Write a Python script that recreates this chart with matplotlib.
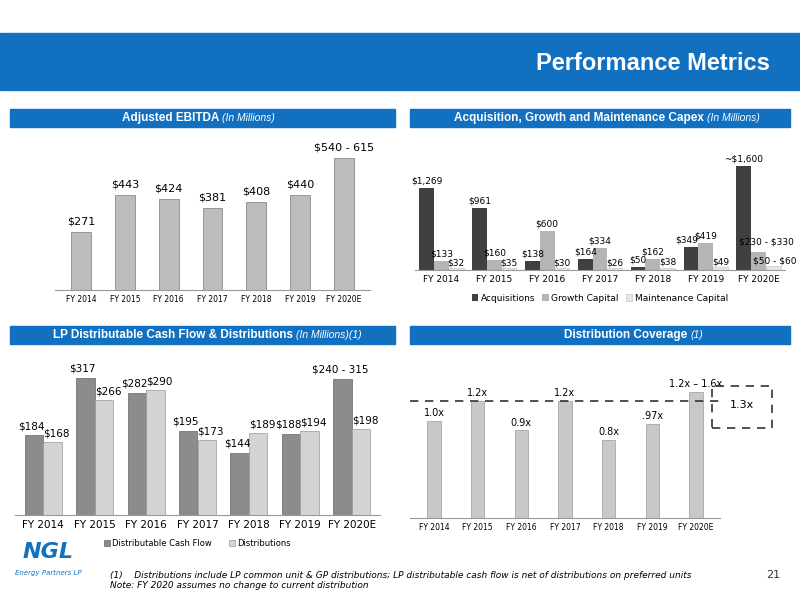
import matplotlib
matplotlib.use("Agg")
import matplotlib.pyplot as plt
from matplotlib.patches import Rectangle
import numpy as np

plt.rcParams["text.parse_math"] = False

years = ["FY 2014", "FY 2015", "FY 2016", "FY 2017", "FY 2018", "FY 2019", "FY 2020E"]
ebitda = [271, 443, 424, 381, 408, 440, 615]
ebitda_labels = ["$271", "$443", "$424", "$381", "$408", "$440", "$540 - 615"]
acq = [1269, 961, 138, 164, 50, 349, 1600]
growth = [133, 160, 600, 334, 162, 419, 280]
maint = [32, 35, 30, 26, 38, 49, 55]
acq_l = ["$1,269", "$961", "$138", "$164", "$50", "$349", "~$1,600"]
growth_l = ["$133", "$160", "$600", "$334", "$162", "$419", "$230 - $330"]
maint_l = ["$32", "$35", "$30", "$26", "$38", "$49", "$50 - $60"]
dcf = [184, 317, 282, 195, 144, 188, 315]
dist = [168, 266, 290, 173, 189, 194, 198]
dcf_l = ["$184", "$317", "$282", "$195", "$144", "$188", "$240 - 315"]
dist_l = ["$168", "$266", "$290", "$173", "$189", "$194", "$198"]
coverage = [1.0, 1.2, 0.9, 1.2, 0.8, 0.97, 1.3]
coverage_l = ["1.0x", "1.2x", "0.9x", "1.2x", "0.8x", ".97x", "1.2x – 1.6x"]

BLUE = "#1170c0"
FONT = "Liberation Sans"
W, H = 800, 600
fig = plt.figure(figsize=(8, 6), dpi=100)

def ax_px(x0, y0, x1, y1):
    return fig.add_axes([x0 / W, 1 - y1 / H, (x1 - x0) / W, (y1 - y0) / H])

def fig_rect(x0, y0, x1, y1, **kw):
    fig.patches.append(Rectangle((x0 / W, 1 - y1 / H), (x1 - x0) / W, (y1 - y0) / H,
                                 transform=fig.transFigure, **kw))

def ftext(x, y, s, **kw):
    return fig.text(x / W, 1 - y / H, s, **kw)

# banner
fig_rect(0, 33, 800, 90, color=BLUE)
ftext(770, 64, "Performance Metrics", color="white", fontsize=17, fontweight="bold",
      ha="right", va="center", family=FONT)
for (x0, x1, y0, y1) in [(10, 395, 109, 127), (410, 790, 109, 127), (10, 395, 326, 344), (410, 790, 326, 344)]:
    fig_rect(x0, y0, x1, y1, color=BLUE)

hdrs = [(275, 118, "Adjusted EBITDA", "(In Millions)"),
        (760, 118, "Acquisition, Growth and Maintenance Capex", "(In Millions)"),
        (362, 335, "LP Distributable Cash Flow & Distributions", "(In Millions)(1)"),
        (703, 335, "Distribution Coverage", "(1)")]
for x, y, t, s in hdrs:
    a = ftext(x, y, s, color="white", fontsize=7.5, style="italic", va="center", ha="right", family=FONT)
    fig.canvas.draw()
    bb = a.get_window_extent()
    fig.text(bb.x0 / W - 0.004, 1 - y / H, t, color="white", fontsize=8.5, fontweight="bold",
             va="center", ha="right", family=FONT)

x = np.arange(len(years))

def clean(ax):
    ax.set_yticks([])
    for s in ["top", "right", "left"]:
        ax.spines[s].set_visible(False)
    ax.spines["bottom"].set_color("#999")
    ax.tick_params(length=0)

# chart 1
ax = ax_px(55, 135, 370, 290)
ax.bar(x, ebitda, width=0.45, color="#bdbdbd", edgecolor="#8a8a8a", linewidth=0.6)
for i, (v, l) in enumerate(zip(ebitda, ebitda_labels)):
    ax.text(i, v + 25, l, ha="center", va="bottom", fontsize=8)
ax.set_ylim(0, 720)
ax.set_xlim(-0.6, 6.6)
ax.set_xticks(x, years, fontsize=5.5)
clean(ax)

# chart 2
ax = ax_px(415, 150, 785, 270)
w = 0.28
ax.bar(x - w, acq, w, color="#404040", label="Acquisitions")
ax.bar(x, growth, w, color="#b5b5b5", label="Growth Capital")
ax.bar(x + w, maint, w, color="#e6e6e6", edgecolor="#bbb", linewidth=0.4, label="Maintenance Capital")
for i in range(7):
    ax.text(i - w - (0.08 if i == 5 else 0), acq[i] + 40, acq_l[i], ha="center", va="bottom", fontsize=6.5)
    ax.text(i + (0.15 if i == 6 else 0), growth[i] + (90 if i == 6 else 40), growth_l[i], ha="center", va="bottom", fontsize=6.5)
    ax.text(i + w + (0.02 if i == 6 else 0), maint[i] + 10, maint_l[i], ha="center", va="bottom", fontsize=6.5)
ax.set_ylim(0, 1850)
ax.set_xlim(-0.5, 6.5)
ax.set_xticks(x, years, fontsize=6.5)
clean(ax)
ax.legend(loc="upper center", bbox_to_anchor=(0.5, -0.13), ncol=3, frameon=False,
          fontsize=6.5, handlelength=0.7, handletextpad=0.3, columnspacing=0.8)

# chart 3
ax = ax_px(15, 355, 380, 515)
w = 0.36
ax.bar(x - w / 2, dcf, w, color="#8c8c8c", edgecolor="#666", linewidth=0.5, label="Distributable Cash Flow")
ax.bar(x + w / 2, dist, w, color="#d4d4d4", edgecolor="#999", linewidth=0.5, label="Distributions")
for i in range(7):
    ax.text(i - w / 2 - 0.05, dcf[i] + 10, dcf_l[i], ha="center", va="bottom", fontsize=7.5)
    ax.text(i + w / 2 + 0.08, dist[i] + 8, dist_l[i], ha="center", va="bottom", fontsize=7.5)
ax.set_ylim(0, 370)
ax.set_xlim(-0.55, 6.55)
ax.set_xticks(x, years, fontsize=7.5)
clean(ax)
ax.legend(loc="upper center", bbox_to_anchor=(0.5, -0.1), ncol=2, frameon=False,
          fontsize=6, handlelength=0.7, handletextpad=0.3)

# chart 4
ax = ax_px(410, 375, 720, 518)
ax.bar(x, coverage, 0.3, color="#c8c8c8", edgecolor="#999", linewidth=0.5)
for i in range(7):
    ax.text(i, coverage[i] + 0.03, coverage_l[i], ha="center", va="bottom", fontsize=7)
ax.axhline(1.2, color="#333", linestyle=(0, (5, 4)), linewidth=1.2, clip_on=False)
ax.set_ylim(0, 1.47)
ax.set_xlim(-0.55, 6.55)
ax.set_xticks(x, years, fontsize=5.5)
clean(ax)
fig_rect(712, 386, 772, 428, fill=False, edgecolor="#333", linestyle=(0, (5, 4)), linewidth=1.2)
ftext(742, 405, "1.3x", ha="center", va="center", fontsize=8)

# footer
ftext(48, 552, "NGL", color=BLUE, fontsize=16, fontweight="bold", ha="center", va="center", style="italic")
ftext(48, 573, "Energy Partners LP", color=BLUE, fontsize=5, ha="center", va="center", style="italic")
ftext(110, 576, "(1)    Distributions include LP common unit & GP distributions; LP distributable cash flow is net of distributions on preferred units",
      fontsize=6.5, style="italic", va="center")
ftext(110, 586, "Note: FY 2020 assumes no change to current distribution", fontsize=6.5, style="italic", va="center")
ftext(780, 575, "21", fontsize=8, ha="right", va="center", color="#333")

fig.savefig("out.png", dpi=100)
